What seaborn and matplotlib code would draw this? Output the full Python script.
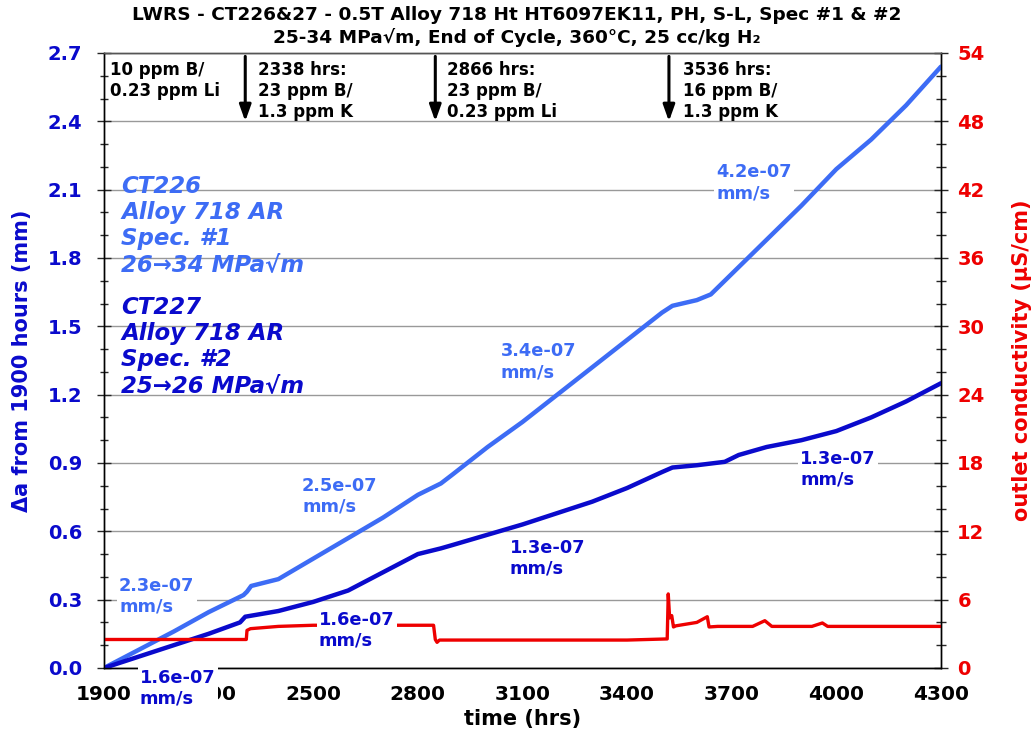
import matplotlib
matplotlib.use('Agg')
import matplotlib.pyplot as plt
import seaborn as sns
import pandas as pd
from matplotlib.ticker import MultipleLocator, FixedLocator

# === 1. Data ===
# CT226 (spec #1) crack extension, mm
ct226_hours = [1900, 2000, 2100, 2200, 2300, 2310, 2322, 2400, 2500, 2600, 2700, 2800,
               2866, 2900, 3000, 3100, 3200, 3300, 3400, 3500, 3530, 3600, 3640,
               3700, 3800, 3900, 4000, 4100, 4200, 4300]
ct226_da = [0.0, 0.08, 0.16, 0.245, 0.32, 0.335, 0.36, 0.39, 0.48, 0.57, 0.66, 0.76,
            0.81, 0.85, 0.97, 1.08, 1.20, 1.32, 1.44, 1.56, 1.59, 1.615, 1.64,
            1.73, 1.88, 2.03, 2.19, 2.32, 2.47, 2.64]

# CT227 (spec #2) crack extension, mm
ct227_hours = [1900, 2000, 2100, 2200, 2290, 2305, 2400, 2500, 2600, 2700, 2800,
               2866, 2900, 3000, 3100, 3200, 3300, 3400, 3500, 3530, 3600, 3680,
               3720, 3800, 3900, 4000, 4100, 4200, 4300]
ct227_da = [0.0, 0.05, 0.10, 0.15, 0.20, 0.225, 0.25, 0.29, 0.34, 0.42, 0.50,
            0.525, 0.54, 0.585, 0.63, 0.68, 0.73, 0.79, 0.86, 0.88, 0.89, 0.905,
            0.935, 0.97, 1.00, 1.04, 1.10, 1.17, 1.25]

# outlet conductivity, uS/cm
cond_hours = [1900, 2308, 2310, 2320, 2400, 2500, 2845, 2850, 2855, 2862, 3400,
              3515, 3518, 3522, 3528, 3533, 3540, 3600, 3630, 3635, 3660, 3760,
              3795, 3815, 3930, 3960, 3975, 4300]
cond_val = [2.5, 2.5, 3.3, 3.45, 3.65, 3.75, 3.75, 2.5, 2.25, 2.45, 2.45,
            2.55, 6.5, 4.4, 4.6, 3.6, 3.7, 4.0, 4.5, 3.6, 3.65, 3.65,
            4.15, 3.65, 3.65, 3.95, 3.65, 3.65]

x_ticks = [1900, 2200, 2500, 2800, 3100, 3400, 3700, 4000, 4300]

# water chemistry changes
chem_arrows = [2305, 2850, 3520]
chem_labels = ['10 ppm B/\n0.23 ppm Li',
               '2338 hrs:\n23 ppm B/\n1.3 ppm K',
               '2866 hrs:\n23 ppm B/\n0.23 ppm Li',
               '3536 hrs:\n16 ppm B/\n1.3 ppm K']
chem_label_hours = [1917, 2342, 2883, 3560]

# growth-rate labels (last flag: label must sit over the red trace / x axis)
rate_hours = [1943, 2468, 3038, 3655, 2003, 2516, 3064, 3896]
rate_da = [0.316, 0.755, 1.345, 2.13, -0.09, 0.167, 0.483, 0.873]
rate_text = ['2.3e-07\nmm/s', '2.5e-07\nmm/s', '3.4e-07\nmm/s', '4.2e-07\nmm/s',
             '1.6e-07\nmm/s', '1.6e-07\nmm/s', '1.3e-07\nmm/s', '1.3e-07\nmm/s']
rate_series = ['CT226'] * 4 + ['CT227'] * 4
rate_on_top = [False, False, False, False, True, True, False, False]

LIGHT = '#3d6cf5'
DARK = '#0a0acc'
RED = '#ee0000'

df226 = pd.DataFrame({'hours': ct226_hours, 'da': ct226_da})
df227 = pd.DataFrame({'hours': ct227_hours, 'da': ct227_da})
dfcond = pd.DataFrame({'hours': cond_hours, 'cond': cond_val})

# === 2. Figure ===
sns.set_style('white')
plt.rcParams['font.family'] = ['DejaVu Sans']
plt.rcParams['font.weight'] = 'bold'
plt.rcParams['text.color'] = 'black'

fig = plt.figure(figsize=(10.34, 7.44), dpi=100)
ax = fig.add_axes([0.1006, 0.1022, 0.8094, 0.8266])
ax2 = ax.twinx()

sns.lineplot(data=df226, x='hours', y='da', ax=ax, color=LIGHT, lw=3.2, zorder=3)
sns.lineplot(data=df227, x='hours', y='da', ax=ax, color=DARK, lw=3.2, zorder=3)
sns.lineplot(data=dfcond, x='hours', y='cond', ax=ax2, color=RED, lw=2.4, zorder=2)

ax.set_xlim(1900, 4300)
ax.set_ylim(0, 2.7)
ax2.set_ylim(0, 54)

ax.xaxis.set_major_locator(FixedLocator(x_ticks))
ax.xaxis.set_minor_locator(MultipleLocator(100))
ax.yaxis.set_major_locator(MultipleLocator(0.3))
ax.yaxis.set_minor_locator(MultipleLocator(0.1))
ax2.yaxis.set_major_locator(MultipleLocator(6))
ax2.yaxis.set_minor_locator(MultipleLocator(2))
ax.yaxis.set_major_formatter(plt.FuncFormatter(lambda v, p: f'{v:.1f}'))

ax.grid(axis='y', which='major', color='#999999', lw=1.0)
ax.set_axisbelow(True)

ax.tick_params(axis='x', which='major', direction='out', length=4, width=1,
               labelsize=14.5, pad=8, colors='black')
ax.tick_params(axis='x', which='minor', direction='out', length=4, width=1)
ax.tick_params(axis='y', which='major', direction='inout', length=9.5, width=1,
               labelsize=14, pad=11, labelcolor=DARK)
ax.tick_params(axis='y', which='minor', direction='inout', length=6, width=1)
ax2.tick_params(axis='y', which='major', direction='inout', length=9.5, width=1,
                labelsize=14, pad=7, labelcolor=RED)
ax2.tick_params(axis='y', which='minor', direction='inout', length=7, width=1)
for lab in ax.get_xticklabels() + ax.get_yticklabels() + ax2.get_yticklabels():
    lab.set_fontweight('bold')

for a in (ax, ax2):
    for s in a.spines.values():
        s.set_color('black')
        s.set_linewidth(1)
    a.spines['top'].set_color('#555555')

ax.set_xlabel('time (hrs)', fontsize=15, fontweight='bold', color='black', labelpad=4)
ax.set_ylabel('Δa from 1900 hours (mm)', fontsize=15, fontweight='bold', color=DARK)
ax.yaxis.set_label_coords(-0.086, 0.5)
ax2.set_ylabel('outlet conductivity (μS/cm)', fontsize=15, fontweight='bold', color=RED)
ax2.yaxis.set_label_coords(1.085, 0.5)

fig.text(0.5, 0.992, 'LWRS - CT226&27 - 0.5T Alloy 718 Ht HT6097EK11, PH, S-L, Spec #1 & #2\n'
         '25-34 MPa√m, End of Cycle, 360°C, 25 cc/kg H₂',
         ha='center', va='top', fontsize=13.3, fontweight='bold', color='black',
         linespacing=1.3)

# === 3. Chemistry arrows and notes ===
for h in chem_arrows:
    ax2.annotate('', xy=(h, 2.40), xytext=(h, 2.685),
                 xycoords=ax.transData, textcoords=ax.transData,
                 arrowprops=dict(arrowstyle='-|>,head_length=0.7,head_width=0.25',
                                 color='black', lw=2.2, mutation_scale=14,
                                 shrinkA=0, shrinkB=0))
for h, t in zip(chem_label_hours, chem_labels):
    ax2.text(h, 2.665, t, transform=ax.transData, ha='left', va='top',
             fontsize=12, fontweight='bold', color='black', linespacing=1.2)

# === 4. Specimen block ===
ax2.text(1950, 2.165, 'CT226\nAlloy 718 AR\nSpec. #1\n26→34 MPa√m', transform=ax.transData,
         ha='left', va='top', fontsize=16.5, fontweight='bold', style='italic',
         color=LIGHT, linespacing=1.18)
ax2.text(1950, 1.635, 'CT227\nAlloy 718 AR\nSpec. #2\n25→26 MPa√m', transform=ax.transData,
         ha='left', va='top', fontsize=16.5, fontweight='bold', style='italic',
         color=DARK, linespacing=1.18)

# === 5. Rate labels ===
# labels on ax sit between the gridlines and the curves; the two on ax2 cover
# the red trace and the x axis like in the original
for h, d, t, s, top in zip(rate_hours, rate_da, rate_text, rate_series, rate_on_top):
    target = ax2 if top else ax
    target.text(h, d, t, transform=ax.transData, ha='left', va='center',
                fontsize=12.8, fontweight='bold',
                color=LIGHT if s == 'CT226' else DARK,
                linespacing=1.2, zorder=20 if top else 2.8, clip_on=False,
                bbox=dict(facecolor='white', edgecolor='none', pad=1.5))

plt.savefig('out.png', dpi=100)
